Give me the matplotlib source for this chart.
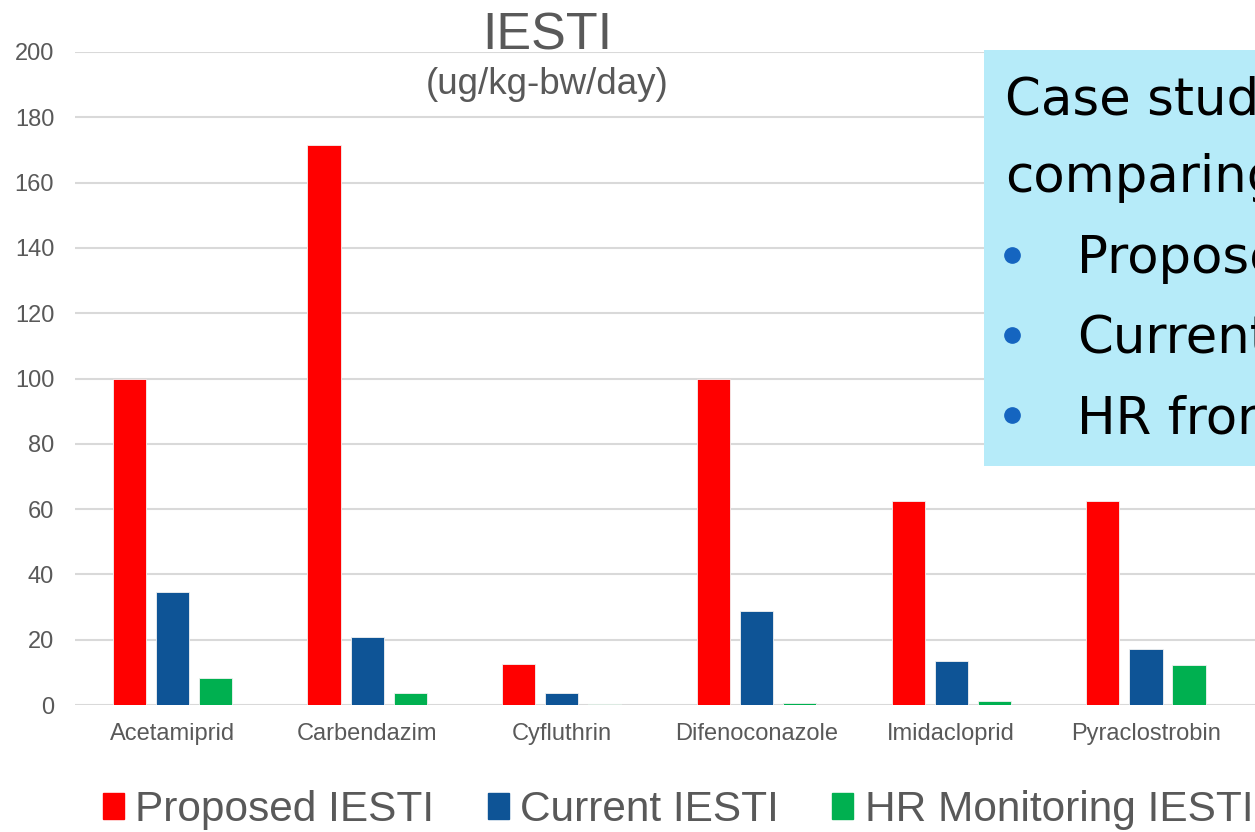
import matplotlib
matplotlib.use("Agg")
import matplotlib.pyplot as plt
from matplotlib.lines import Line2D
from matplotlib.patches import Rectangle
import numpy as np

categories = ["Acetamiprid", "Carbendazim", "Cyfluthrin", "Difenoconazole",
              "Imidacloprid", "Pyraclostrobin"]
proposed = [100, 171.5, 12.6, 100, 62.5, 62.5]
current = [34.5, 20.7, 3.6, 28.7, 13.5, 17.0]
hr_monitoring = [8.3, 3.8, 0.3, 0.6, 1.3, 12.2]
series_names = ["Proposed IESTI", "Current IESTI", "HR Monitoring IESTI"]
series_colors = ["#FF0000", "#0E5496", "#00B050"]
y_ticks = [0, 20, 40, 60, 80, 100, 120, 140, 160, 180, 200]

box_lines = ["Case study", "comparing"]
box_bullets = ["Proposed", "Current", "HR from"]

W, H = 1255, 832
fig = plt.figure(figsize=(W / 100, H / 100), dpi=100)
ax = fig.add_axes([75 / W, 1 - 705 / H, 1 - 75 / W, (705 - 52) / H])

gray = "#595959"
x = np.arange(len(categories))
width = 0.17
step = 0.221
for i, (vals, name, col) in enumerate(zip([proposed, current, hr_monitoring],
                                          series_names, series_colors)):
    ax.bar(x + (i - 1) * step, vals, width, color=col, label=name,
           edgecolor="#f2f2f2", linewidth=0.6, zorder=3)

ax.set_xlim(-0.5, 5.56)
ax.set_ylim(0, 200)
ax.set_yticks(y_ticks)
ax.set_xticks(x)
ax.set_xticklabels(categories)
ax.tick_params(axis="both", length=0, labelsize=17, labelcolor=gray)
ax.tick_params(axis="y", pad=15)
ax.tick_params(axis="x", pad=13)
for lab in ax.get_xticklabels() + ax.get_yticklabels():
    lab.set_fontfamily("Liberation Sans")
ax.grid(axis="y", color="#D9D9D9", linewidth=1.5, zorder=0)
for s in ax.spines.values():
    s.set_visible(False)

# titles
fig.text(547 / W, 1 - 49 / H, "IESTI", ha="center", va="baseline",
         fontsize=37.5, color=gray, family="Liberation Sans")
fig.text(547 / W, 1 - 94 / H, "(ug/kg-bw/day)", ha="center", va="baseline",
         fontsize=26.5, color=gray, family="Liberation Sans")

# legend
handles = [Rectangle((0, 0), 1, 1, color=c) for c in series_colors]
fig.legend(handles, series_names, loc="center", bbox_to_anchor=(678 / W, 1 - 810 / H),
           ncol=3, frameon=False, handlelength=0.5, handleheight=0.55,
           handletextpad=0.27, columnspacing=1.25,
           prop={"family": "Liberation Sans", "size": 30.5}, labelcolor=gray)

# overlay text box (runs off the right edge, as in the source slide)
fig.add_artist(Rectangle((984 / W, 1 - 466 / H), 1, (466 - 50) / H,
                         transform=fig.transFigure, facecolor="#B6EBF9",
                         edgecolor="none", zorder=10))
baselines = [115, 192, 273, 353, 433]
for txt, b in zip(box_lines, baselines[:2]):
    fig.text(1005 / W, 1 - b / H, txt, ha="left", va="baseline", fontsize=37,
             family="DejaVu Sans", color="black", zorder=11)
for txt, b in zip(box_bullets, baselines[2:]):
    fig.add_artist(Line2D([1012 / W], [1 - (b - 18) / H], marker="o", markersize=11,
                          color="#1565C0", transform=fig.transFigure, zorder=11))
    fig.text(1077 / W, 1 - b / H, txt, ha="left", va="baseline", fontsize=37,
             family="DejaVu Sans", color="black", zorder=11)

fig.savefig("out.png", dpi=100)
